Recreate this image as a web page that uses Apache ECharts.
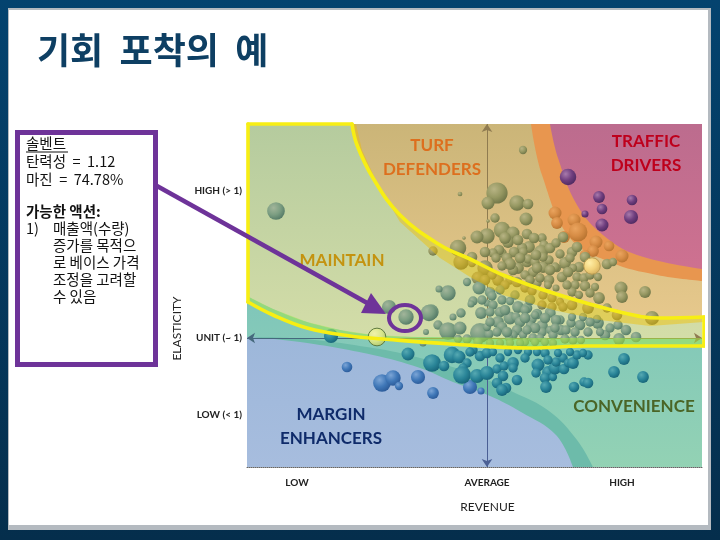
<!DOCTYPE html>
<html><head><meta charset="utf-8">
<style>html,body{margin:0;padding:0;background:#fff}#c{width:720px;height:540px}</style>
<script src="https://cdn.jsdelivr.net/npm/echarts@6/dist/echarts.min.js"></script>
</head><body><div id="c"></div>
<script>
const titleText = '기회  포착의  예';
const xTickValues = [297, 487, 622];
const xTickLabels = ['LOW', 'AVERAGE', 'HIGH'];
const yTickValues = [191, 338, 415];
const yTickLabels = ['HIGH (> 1)', 'UNIT (~ 1)', 'LOW (< 1)'];

/* region boundaries, in revenue / elasticity index units */
const pinkCurve = [[550,124],[558,158],[577,205],[603,235],[637,255],[702,269]];
const orangeCurve = [[531,124],[542,175],[570,238],[610,262],[657,275],[702,281]];
const turfCurve = [[352,124],[357,145],[373,178],[400,215],[440,245],[470,259],[503,275],[553,293],[620,312],[660,318],[704,317]];
const goldEdge = [[704,322],[650,326],[600,320],[553,310],[503,295],[470,277],[440,258],[400,222],[378,185],[362,150],[356,124]];
const unitCurve = [[247,296],[273,309],[307,322],[340,330],[373,335],[417,337],[530,338],[702,338]];
const lowerCurve = [[248,302],[273,315],[307,328],[350,336],[383,339],[450,344],[530,348],[587,346],[653,346],[704,346]];
const tealCurve = [[247,337],[290,338],[373,348],[420,358],[470,373],[513,392],[549,411],[577,440],[593,467]];
const blueCurve = [[247,337],[300,342],[373,355],[420,368],[453,382],[490,396],[521,412],[556,435],[573,467]];
const floorLine = [[247,467],[702,467]];
const outlineTop = [[248,124],[352,124]];
const outlineLeft = [[248,124],[248,302]];
const outlineRight = [[704,317],[704,346]];

/* bubbles: revenue, elasticity, size */
const turfBubbles = [[460,194,4],[523,150,7],[497,193,18],[488,203,11],[517,203,13],[528,204,9],[526,219,11],[495,218,8],[488,221,3],[464,238,3],[502,230,14],[513,233,11],[487,236,13],[477,237,11],[508,242,10],[527,234,9],[542,238,8],[544,245,8],[541,252,12],[529,247,10],[522,248,9],[523,252,8],[514,252,9],[502,253,8],[499,250,9],[493,253,8],[485,252,9],[507,258,9],[496,258,8],[527,262,9],[518,268,10],[513,270,9],[543,267,10],[533,272,9],[525,275,8],[549,260,8],[458,248,14],[472,257,9],[563,237,9],[543,257,8],[560,254,8],[572,252,9],[577,247,9],[585,257,9],[565,263,10],[557,268,7],[579,267,9],[573,268,7],[607,264,9],[613,262,7],[562,277,9],[549,280,9],[577,277,8],[584,278,8],[548,285,7],[556,288,6],[585,286,9],[575,285,8],[572,292,8],[595,287,7],[599,298,10],[579,295,7],[590,293,8],[621,288,11],[622,297,10],[645,292,10],[555,267,8],[528,259,8],[535,262,8],[537,283,8],[568,272,9],[505,238,10],[518,240,9],[534,238,9],[550,248,9],[556,243,8],[536,255,9],[520,258,9],[510,264,10],[502,266,8],[537,268,9],[550,270,9],[570,258,8],[590,275,8],[598,277,7],[567,285,8],[540,278,8],[530,280,8],[461,262,13],[472,263,7],[433,251,8],[485,268,13],[478,278,11],[498,280,10],[492,275,8],[510,280,8],[517,282,9],[543,295,8],[552,298,8],[560,302,7],[572,305,9],[588,308,10],[607,308,8],[617,315,9],[652,318,12],[542,305,8],[552,307,8],[563,307,8],[525,288,8],[532,291,8],[505,285,8],[485,280,9]];
const maintainBubbles = [[276,211,15],[448,293,13],[439,289,6],[467,282,7],[479,288,11],[473,301,8],[471,304,6],[461,313,8],[453,317,6],[431,312,13],[438,325,8],[448,331,15],[460,328,11],[467,339,8],[480,333,17],[489,334,8],[487,327,7],[481,313,10],[490,292,9],[487,303,6],[493,305,8],[492,296,8],[502,300,8],[510,301,7],[518,307,10],[527,308,9],[537,314,9],[510,318,11],[500,312,9],[490,312,8],[498,322,10],[502,327,9],[497,332,8],[516,317,8],[520,322,9],[532,319,8],[530,325,7],[542,326,10],[542,332,8],[517,330,9],[513,335,8],[523,335,7],[509,338,7],[533,338,8],[540,338,7],[549,312,7],[550,330,7],[389,307,12],[406,317,13],[429,313,14],[426,332,5],[423,343,6],[619,339,10],[636,337,9],[626,330,9],[618,325,8],[605,335,9],[598,323,10],[597,319,7],[580,325,9],[573,340,8],[565,339,8],[581,340,7],[561,330,9],[571,323,8],[551,313,8],[553,335,8],[535,315,7],[525,310,8],[560,320,8],[583,317,7],[572,317,7],[505,310,9],[525,318,9],[535,328,9],[507,332,9],[490,322,8],[527,330,8],[545,318,9],[556,320,9],[566,330,8],[575,332,8],[590,322,8],[588,332,8],[600,332,7],[610,328,8],[555,328,8],[482,300,8],[500,290,8],[515,295,8],[530,300,9],[525,342,7],[535,342,7],[545,342,7],[553,343,7],[510,343,7],[520,343,7],[478,342,8],[490,343,7],[500,343,7],[458,339,7]];
const tealBubbles = [[331,336,12],[408,354,11],[432,363,15],[444,366,9],[452,355,14],[459,357,11],[467,363,8],[463,368,8],[462,375,15],[477,376,12],[487,373,12],[480,356,9],[487,353,9],[473,350,8],[497,369,8],[504,366,8],[513,363,10],[513,368,8],[503,376,9],[517,380,9],[497,383,9],[506,388,9],[502,390,10],[508,352,7],[538,365,11],[536,373,8],[545,353,8],[537,352,7],[548,372,10],[545,378,9],[546,387,10],[553,377,7],[555,368,11],[556,362,8],[564,369,9],[563,358,8],[558,353,7],[568,363,7],[493,352,7],[518,350,7],[528,352,7],[573,363,10],[577,355,8],[588,355,8],[583,353,7],[624,359,10],[614,372,10],[643,377,10],[584,382,8],[588,383,9],[574,387,9],[470,352,8],[500,358,8],[525,358,8],[548,360,8],[570,352,7]];
const blueBubbles = [[347,367,9],[382,383,15],[393,378,13],[399,386,7],[418,377,12],[433,393,10],[470,387,12],[481,391,6]];
const purpleBubbles = [[568,177,14],[599,197,10],[602,209,9],[632,200,9],[631,217,12],[602,225,11],[585,214,6]];
const orangeBubbles = [[555,213,11],[557,223,10],[574,220,11],[578,232,16],[564,237,10],[596,242,11],[609,246,9],[622,256,11],[593,251,10],[585,255,9]];
const goldHighlight = [[592,266,14]];
const paleHighlight = [[377,337,15]];

const regionLabels = [
  {value:[432,158], text:'TURF\nDEFENDERS', color:'#DD6F1E'},
  {value:[646,154], text:'TRAFFIC\nDRIVERS', color:'#BE001C'},
  {value:[342,261], text:'MAINTAIN', color:'#C4930F'},
  {value:[331,427], text:'MARGIN\nENHANCERS', color:'#0F2B6A'},
  {value:[634,407], text:'CONVENIENCE', color:'#4A6526'}
];
const noteLines = [
  {x:26,y:143,t:'솔벤트',b:false},{x:26,y:161,t:'탄력성  =  1.12',b:false},{x:26,y:179,t:'마진  =  74.78%',b:false},
  {x:26,y:211,t:'가능한 액션:',b:true},{x:26,y:228,t:'1)',b:false},{x:53,y:228,t:'매출액(수량)',b:false},
  {x:53,y:245,t:'증가를 목적으',b:false},{x:53,y:262,t:'로 베이스 가격',b:false},{x:53,y:279,t:'조정을 고려할',b:false},{x:53,y:296,t:'수 있음',b:false}
];

const KR = '"Noto Sans CJK KR", sans-serif';
const SIZE_SCALE = 1.18;
const grad = (top, bottom) => ({type:'linear',x:0,y:0,x2:0,y2:1,colorStops:[{offset:0,color:top},{offset:1,color:bottom}]});
const ball = (hi, mid, lo) => ({type:'radial',x:0.36,y:0.32,r:0.72,colorStops:[{offset:0,color:hi},{offset:0.55,color:mid},{offset:1,color:lo}]});

const area = (name, curve, origin, fill, z) => ({
  name, type:'line', data:curve, smooth:0.4, symbol:'none', z, silent:true,
  lineStyle:{width:0}, areaStyle:{color:fill, origin, opacity:1}
});
const stroke = (name, curve, smooth) => ({
  name, type:'line', data:curve, smooth, symbol:'none', z:8, clip:false, silent:true,
  lineStyle:{width:3.6, color:'#F7EE14', cap:'round'}
});
const poly = (name, pts, fill) => ({
  name, type:'custom', data:[[pts[0][0],pts[0][1]]], z:7, silent:true, clip:false,
  renderItem:(p, api) => ({type:'polygon', shape:{points:pts.map(q => api.coord(q))}, style:{fill}})
});
const bubbles = (name, data, color, z, border) => ({
  name, type:'scatter', data, z:z||5, silent:true, symbolSize:d => d[2]*SIZE_SCALE,
  itemStyle:{color, opacity:1, borderColor:border||'transparent', borderWidth:border?1:0}
});

const chart = echarts.init(document.getElementById('c'));
const bg = [
  {type:'rect', z:-30, shape:{x:0,y:0,width:720,height:540}, style:{fill:grad('#04436F','#052E4C')}},
  {type:'rect', z:-29, shape:{x:8,y:8,width:703,height:522}, style:{fill:'#B4BAC0'}},
  {type:'rect', z:-28, shape:{x:9,y:10,width:699,height:515}, style:{fill:'#fff'}}
];
const callout = [
  {type:'rect', z:50, shape:{x:17.5,y:132.5,width:138,height:232}, style:{fill:'#fff',stroke:'#6E3399',lineWidth:5}},
  {type:'line', z:51, shape:{x1:26,y1:152,x2:68,y2:152}, style:{stroke:'#111',lineWidth:1}},
  ...noteLines.map(l => ({type:'text', z:51, x:l.x, y:l.y, style:{text:l.t, fill:'#111', font:(l.b?'bold ':'')+'14.5px '+KR, textVerticalAlign:'middle', textBaseline:'middle'}})),
  {type:'line', z:52, shape:{x1:157,y1:186,x2:378,y2:309}, style:{stroke:'#6E3399',lineWidth:4.5}},
  {type:'polygon', z:52, shape:{points:[[386,314],[371,293],[361,313]]}, style:{fill:'#6E3399'}},
  {type:'ellipse', z:52, shape:{cx:405,cy:318,rx:16,ry:13}, style:{fill:'none',stroke:'#6E3399',lineWidth:4}}
];

chart.setOption({
  animation:false,
  title:{text:titleText, left:32, top:27, textStyle:{fontFamily:KR,fontWeight:'bold',fontSize:36,color:'#0E3F63'}},
  grid:{left:247,right:18,top:124,bottom:73,containLabel:false},
  xAxis:{type:'value',min:247,max:702,position:'bottom',
    name:'REVENUE',nameLocation:'middle',nameGap:34,
    nameTextStyle:{fontFamily:'Lato',fontSize:12,color:'#222',padding:[0,0,0,26]},
    splitLine:{show:false},axisTick:{show:false},
    axisLine:{show:true,lineStyle:{color:'#666',type:'dotted',width:1}},
    axisLabel:{customValues:xTickValues,formatter:v => xTickLabels[xTickValues.indexOf(v)],margin:11,
      fontFamily:'Lato',fontWeight:'bold',fontSize:10,color:'#222'}},
  yAxis:{type:'value',min:124,max:467,inverse:true,
    name:'ELASTICITY',nameLocation:'middle',nameGap:62,nameRotate:90,
    nameTextStyle:{fontFamily:'Lato',fontSize:12,color:'#222',padding:[0,66,0,0]},
    splitLine:{show:false},axisTick:{show:false},axisLine:{show:false},
    axisLabel:{customValues:yTickValues,formatter:v => yTickLabels[yTickValues.indexOf(v)],margin:5,
      fontFamily:'Lato',fontWeight:'bold',fontSize:10,color:'#222'}},
  series:[
    area('maintain', floorLine, 'start', grad('#B5CB9E','#E6E8AE'), 1),
    area('turf', turfCurve, 'start', grad('#CBB578','#E6C88C'), 1.1),
    area('orangeBand', orangeCurve, 'start', '#E8964F', 1.2),
    area('traffic', pinkCurve, 'start', grad('#BC6C8E','#CE7190'), 1.3),
    area('convenience', unitCurve, 'end', grad('#7FC6BA','#93D2B4'), 1.4),
    area('tealBand', tealCurve, 'end', '#6DBBAA', 1.5),
    area('margin', blueCurve, 'end', grad('#9DB7DA','#A7BDDE'), 1.6),
    {name:'guides',type:'scatter',data:[],z:3,silent:true,
      markLine:{silent:true,animation:false,label:{show:false},z:3,data:[
        [{coord:[487,124],symbol:'arrow',symbolSize:8,lineStyle:{color:'#8F7B50',width:1,type:'solid'}},{coord:[487,338],symbol:'none'}],
        [{coord:[487,338],symbol:'none',lineStyle:{color:'#4A5F94',width:1,type:'solid'}},{coord:[487,467],symbol:'arrow',symbolSize:8}],
        [{coord:[247,338],symbol:'arrow',symbolSize:8,lineStyle:{color:'#45687C',width:1,type:'solid'}},{coord:[385,338],symbol:'none'}],
        [{coord:[385,338],symbol:'none',lineStyle:{color:'#8F7B50',width:1,type:'solid'}},{coord:[702,338],symbol:'arrow',symbolSize:8}]
      ]}},
    bubbles('traffic bubbles', purpleBubbles, ball('#A87AAB','#6F3E7E','#4E2A60')),
    bubbles('orange bubbles', orangeBubbles, ball('#EAA45E','#D68C45','#B77330')),
    bubbles('turf bubbles', turfBubbles, ball('#B8B484','#969862','#6F7547')),
    bubbles('maintain bubbles', maintainBubbles, ball('#A2B59A','#7C9E82','#547A66')),
    bubbles('margin bubbles', blueBubbles, ball('#7CA5D6','#4078B8','#2B5A98')),
    bubbles('teal bubbles', tealBubbles, ball('#56A9B2','#2A8598','#176478')),
    poly('gold band', turfCurve.concat(goldEdge), 'rgba(242,190,0,0.45)'),
    poly('green band', unitCurve.concat(lowerCurve.slice().reverse()), 'rgba(165,235,65,0.5)'),
    bubbles('gold highlight', goldHighlight, ball('#FFEFA8','#F2D37C','#D4AE5E'), 7.5, '#B99B50'),
    bubbles('pale highlight', paleHighlight, ball('#F0F2A8','#D8E68C','#B0C870'), 7.5, '#5E7A3E'),
    stroke('outline upper', turfCurve, 0.4),
    stroke('outline lower', lowerCurve, 0.4),
    stroke('outline top', outlineTop, false),
    stroke('outline left', outlineLeft, false),
    stroke('outline right', outlineRight, false),
    {name:'region labels',type:'scatter',z:9,silent:true,symbolSize:0,data:regionLabels.map(r => ({
        value:r.value,
        label:{show:true,position:'inside',formatter:r.text,color:r.color,fontFamily:'Lato',fontWeight:'bold',fontSize:17,lineHeight:24,align:'center',verticalAlign:'middle',textBorderWidth:0,opacity:1}
      }))}
  ],
  graphic:{elements:bg.concat(callout)}
});
</script></body></html>
